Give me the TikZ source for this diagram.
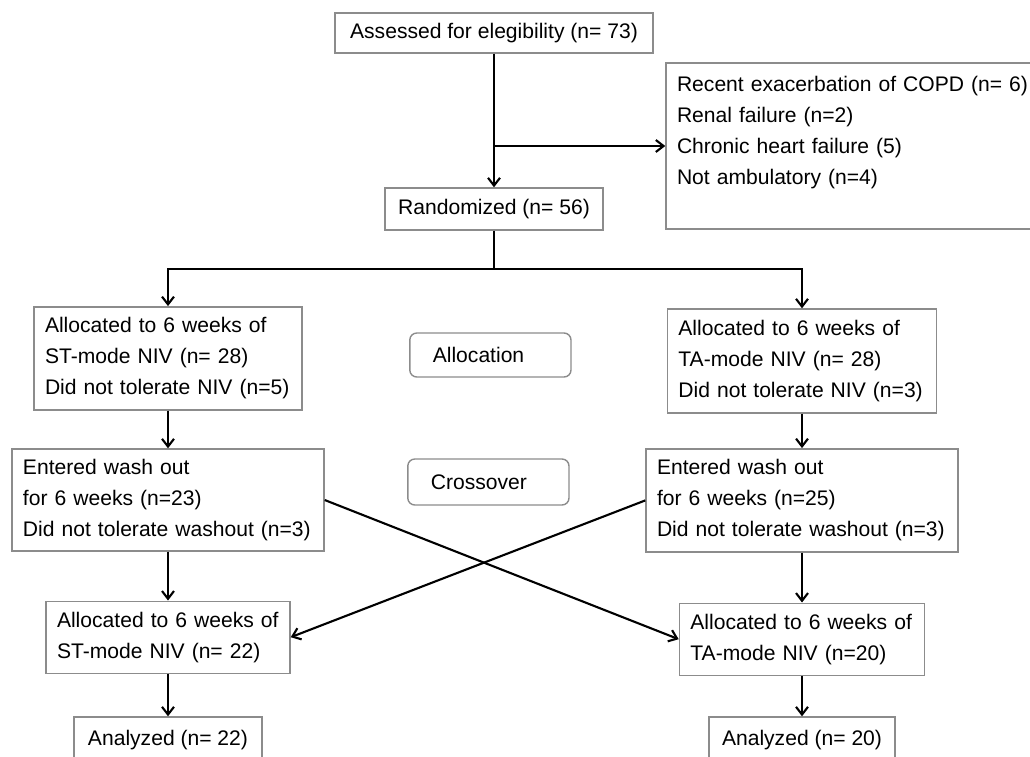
\documentclass[tikz,border=0pt]{standalone}
\usepackage{fontspec}
\setmainfont{Liberation Sans}
\usetikzlibrary{arrows.meta}
\definecolor{boxgray}{RGB}{140,140,140}

\begin{document}
\begin{tikzpicture}[
  box/.style={draw=boxgray, line width=1pt, align=left, inner xsep=0.275cm, inner ysep=0pt,
    font=\fontsize{15}{22}\selectfont},
  single/.style={box, align=center, minimum height=1.05cm},
  tag/.style={box, rounded corners=5pt, inner xsep=0.575cm, text width=2.88cm},
  arr/.style={line width=1.5pt, -{Straight Barb[length=5.5pt,width=8.5pt]}},
  link/.style={line width=1.5pt}
]
\useasboundingbox (0,0) rectangle (25.75,-18.9);

% ===================== Enrolment =====================
\node[single, minimum width=7.95cm, minimum height=1cm] (assess) at (12.35,-0.825)
  {Assessed for elegibility (n= 73)};
\node[box, text width=9.2cm, minimum height=4.15cm] (excl) at (21.525,-3.65)
  {Recent exacerbation of COPD (n= 6)\\
   Renal failure (n=2)\\
   Chronic heart failure (5)\\
   Not ambulatory (n=4)\\ \mbox{}};
\node[single, minimum width=5.45cm] (rand) at (12.35,-5.225) {Randomized (n= 56)};

\draw[arr] (assess) -- (rand);
\draw[arr] (assess.south |- excl.west) -- (excl.west);

% ===================== Allocation =====================
\node[box, text width=6.15cm, minimum height=2.58cm] (alst) at (4.2,-8.96)
  {Allocated to 6 weeks of\\ ST-mode NIV (n= 28)\\ Did not tolerate NIV (n=5)};
\node[box, text width=6.18cm, minimum height=2.6cm] (alta) at (20.05,-9.025)
  {Allocated to 6 weeks of\\ TA-mode NIV (n= 28)\\ Did not tolerate NIV (n=3)};
\node[tag, minimum height=1.1cm] (alloc) at (12.26,-8.875) {Allocation};

\coordinate (split) at (12.35,-6.725);
\draw[link] (rand) -- (split);
\draw[arr] (split) -| (alst);
\draw[arr] (split) -| (alta);

% ===================== Wash out =====================
\node[box, text width=7.25cm, minimum height=2.55cm] (wost) at (4.2,-12.5)
  {Entered wash out\\ for 6 weeks (n=23)\\ Did not tolerate washout (n=3)};
\node[box, text width=7.25cm, minimum height=2.58cm] (wota) at (20.05,-12.51)
  {Entered wash out\\ for 6 weeks (n=25)\\ Did not tolerate washout (n=3)};
\node[tag, minimum height=1.15cm] (cross) at (12.21,-12.05) {Crossover};

\draw[arr] (alst) -- (wost);
\draw[arr] (alta) -- (wota);

% ===================== Crossover =====================
\node[box, text width=5.55cm, minimum height=1.8cm] (crst) at (4.2,-15.93)
  {Allocated to 6 weeks of\\ ST-mode NIV (n= 22)};
\node[box, text width=5.58cm, minimum height=1.8cm] (crta) at (20.05,-15.98)
  {Allocated to 6 weeks of\\ TA-mode NIV (n=20)};

\draw[arr] (wost) -- (crst);
\draw[arr] (wota) -- (crta);
\draw[arr] (wost.east) -- (crta.west);
\draw[arr] (wota.west) -- (crst.east);

% ===================== Analysis =====================
\node[single, minimum width=4.7cm, minimum height=1.15cm] (anst) at (4.2,-18.5) {Analyzed (n= 22)};
\node[single, minimum width=4.65cm, minimum height=1.15cm] (anta) at (20.05,-18.5) {Analyzed (n= 20)};

\draw[arr] (crst) -- (anst);
\draw[arr] (crta) -- (anta);

\end{tikzpicture}
\end{document}
